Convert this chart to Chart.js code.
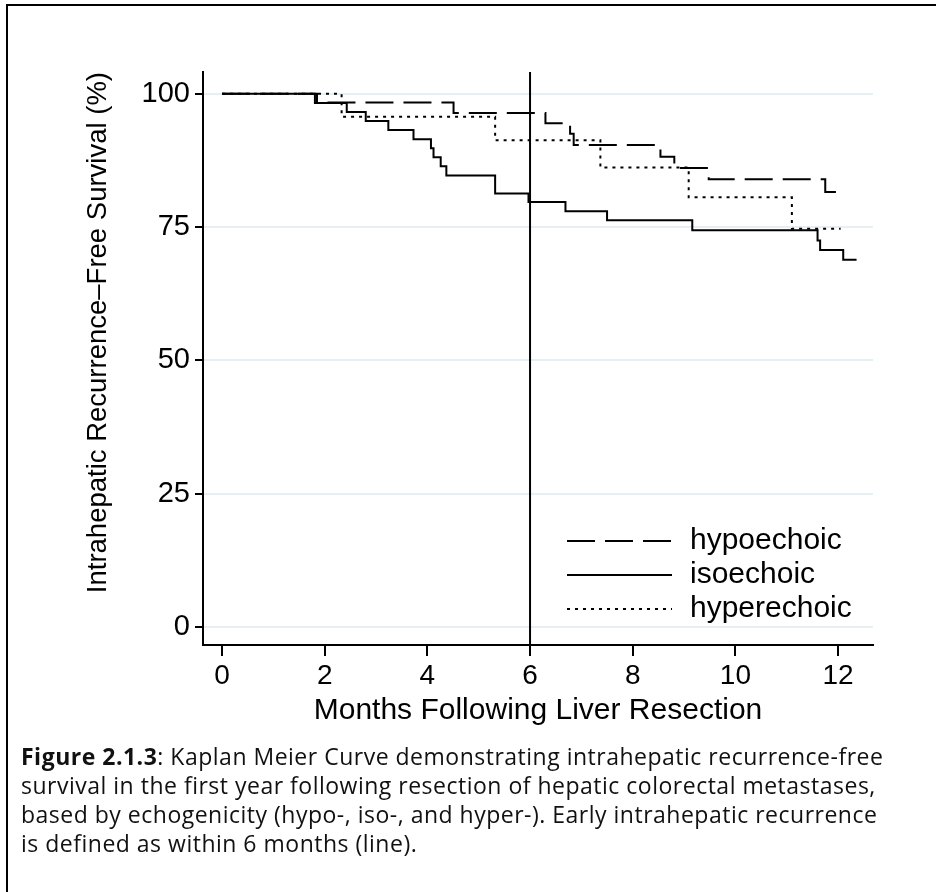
<!DOCTYPE html>
<html>
<head>
<meta charset="utf-8">
<script src="https://cdn.jsdelivr.net/npm/chart.js@4"></script>
<style>
  html, body { margin: 0; padding: 0; background: #fff; }
  #wrap { position: relative; width: 936px; height: 892px; overflow: hidden; }
  #frame { position: absolute; left: 6px; top: 4px; width: 960px; height: 920px;
           border-top: 2px solid #000; border-left: 2px solid #000; }
  #chart { position: absolute; left: 0; top: 0; }
  #caption { position: absolute; left: 21px; top: 742px; width: 900px;
             font-family: "Open Sans", sans-serif; font-size: 23px; line-height: 29px;
             letter-spacing: 0.5px; color: #111; white-space: nowrap; }
</style>
</head>
<body>
<div id="wrap">
  <div id="frame"></div>
  <canvas id="chart" width="936" height="892"></canvas>
  <div id="caption">
    <b>Figure 2.1.3</b>: Kaplan Meier Curve demonstrating intrahepatic recurrence-free<br>
    survival in the first year following resection of hepatic colorectal metastases,<br>
    based by echogenicity (hypo-, iso-, and hyper-). Early intrahepatic recurrence<br>
    is defined as within 6 months (line).
  </div>
</div>
<script>
// Datos (meses, supervivencia %)
const hypoMonths = [0, 1.85, 4.51, 6.30, 6.78, 6.85, 8.54, 8.81, 9.48, 11.75, 12.08];
const hypoSurv   = [100, 98.4, 96.4, 94.5, 92.5, 90.4, 88.2, 86.1, 84.0, 81.6, 81.6];

const isoMonths = [0, 1.81, 2.43, 2.80, 3.24, 3.73, 4.07, 4.12, 4.26, 4.37, 5.32, 5.97, 6.69, 7.50, 9.16, 11.60, 11.65, 12.10, 12.36];
const isoSurv   = [100, 98.3, 96.6, 94.9, 93.2, 91.5, 89.8, 88.1, 86.4, 84.7, 81.3, 79.7, 78.0, 76.3, 74.4, 72.5, 70.7, 68.9, 68.9];

const hyperMonths = [0, 2.33, 5.32, 7.37, 9.09, 11.10, 12.05];
const hyperSurv   = [100, 95.7, 91.3, 86.2, 80.6, 74.7, 74.7];

const cutoffMonth = 6;
const xTicks = [0, 2, 4, 6, 8, 10, 12];
const yTicks = [0, 25, 50, 75, 100];
const xMin = -0.37, xMax = 12.68;
const yMin = -3.38, yMax = 104.1;

const axisFont = '"Liberation Sans", Arial, sans-serif';

function toPoints(xs, ys) {
    return xs.map((x, i) => ({ x: x, y: ys[i] }));
}

// Leyenda dentro del area del grafico
const insideLegend = {
    id: 'insideLegend',
    afterDatasetsDraw(chart) {
        const ctx = chart.ctx;
        ctx.save();
        [0, 1, 2].forEach((idx, r) => {
            const ds = chart.data.datasets[idx];
            const y = 541 + r * 34;
            ctx.beginPath();
            ctx.setLineDash(ds.borderDash || []);
            ctx.lineWidth = ds.borderWidth;
            ctx.strokeStyle = ds.borderColor;
            ctx.moveTo(567, y);
            ctx.lineTo(672, y);
            ctx.stroke();
            ctx.setLineDash([]);
            ctx.fillStyle = '#000';
            ctx.font = '30px ' + axisFont;
            ctx.textBaseline = 'middle';
            ctx.fillText(ds.label, 690, y);
        });
        ctx.restore();
    }
};

const ctx = document.getElementById('chart').getContext('2d');
new Chart(ctx, {
    type: 'line',
    data: {
        datasets: [{
            label: 'hypoechoic',
            data: toPoints(hypoMonths, hypoSurv),
            borderColor: '#000',
            borderWidth: 2,
            borderDash: [28, 10],
            stepped: 'before',
            pointRadius: 0
        }, {
            label: 'isoechoic',
            data: toPoints(isoMonths, isoSurv),
            borderColor: '#000',
            borderWidth: 2,
            stepped: 'before',
            pointRadius: 0
        }, {
            label: 'hyperechoic',
            data: toPoints(hyperMonths, hyperSurv),
            borderColor: '#000',
            borderWidth: 2,
            borderDash: [3, 5],
            stepped: 'before',
            pointRadius: 0
        }, {
            label: 'cutoff',
            data: [{ x: cutoffMonth, y: yMin }, { x: cutoffMonth, y: yMax }],
            borderColor: '#000',
            borderWidth: 2,
            pointRadius: 0
        }]
    },
    options: {
        responsive: false,
        animation: false,
        events: [],
        layout: { padding: { top: 72, right: 63, left: 0, bottom: 0 } },
        plugins: {
            legend: { display: false },
            tooltip: { enabled: false }
        },
        scales: {
            x: {
                type: 'linear',
                min: xMin,
                max: xMax,
                afterBuildTicks: s => { s.ticks = xTicks.map(v => ({ value: v })); },
                afterFit: s => { s.height = 247; },
                border: { display: true, color: '#000', width: 2 },
                grid: { drawOnChartArea: false, color: '#000', tickColor: '#000', tickLength: 11, lineWidth: 2 },
                ticks: { color: '#000', padding: 3, maxRotation: 0,
                         font: { family: axisFont, size: 28 } },
                title: { display: true, text: 'Months Following Liver Resection', color: '#000',
                         font: { family: axisFont, size: 30 },
                         padding: { top: 0, bottom: 163 } }
            },
            y: {
                type: 'linear',
                min: yMin,
                max: yMax,
                afterBuildTicks: s => { s.ticks = yTicks.map(v => ({ value: v })); },
                afterFit: s => { s.width = 203; },
                border: { display: true, color: '#000', width: 2 },
                grid: { color: '#e6eff2', lineWidth: 2, tickColor: '#000', tickLength: 8 },
                ticks: { color: '#000', padding: 5,
                         font: { family: axisFont, size: 29 } },
                title: { display: true, text: 'Intrahepatic Recurrence\u2013Free Survival (%)', color: '#000',
                         align: 'end',
                         font: { family: axisFont, size: 27.5 },
                         padding: { top: 82, bottom: 0 } }
            }
        }
    },
    plugins: [insideLegend]
});
</script>
</body>
</html>
